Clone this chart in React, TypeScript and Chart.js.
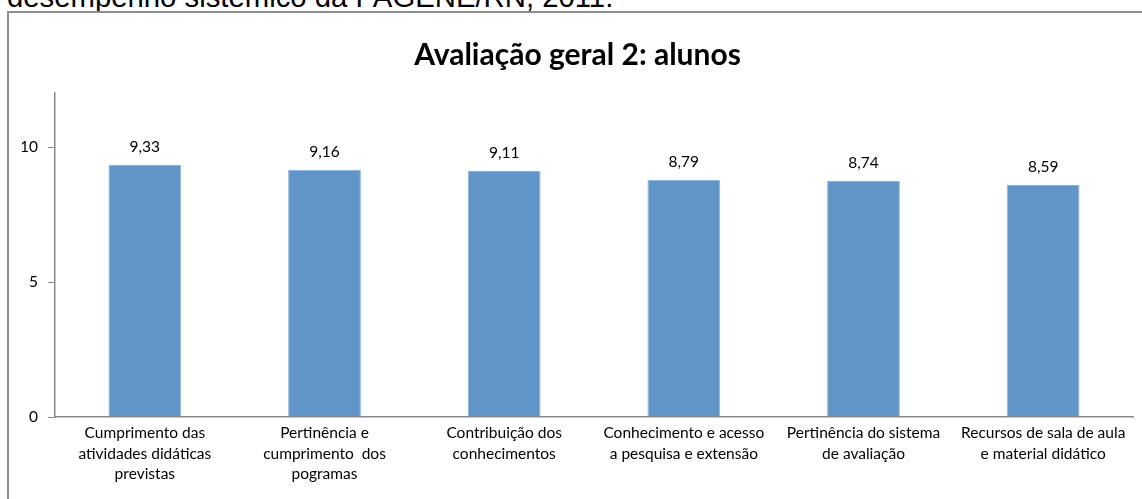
import React, { useEffect, useRef } from "react";
import { Chart, registerables } from "chart.js";

Chart.register(...registerables);

const categories: string[][] = [
  ["Cumprimento das", "atividades didáticas", "previstas"],
  ["Pertinência e", "cumprimento  dos", "pogramas"],
  ["Contribuição dos", "conhecimentos"],
  ["Conhecimento e acesso", "a pesquisa e extensão"],
  ["Pertinência do sistema", "de avaliação"],
  ["Recursos de sala de aula", "e material didático"],
];
const values: number[] = [9.33, 9.16, 9.11, 8.79, 8.74, 8.59];
const titleText = "Avaliação geral 2: alunos";
const captionText = "desempenho sistêmico da PAGENE/RN, 2011.";

const FONT = "Lato, 'Open Sans', sans-serif";
const TXT = 15.5;

const dataLabelPlugin = {
  id: "dataLabels",
  afterDatasetsDraw(chart: any) {
    const ctx = chart.ctx;
    const meta = chart.getDatasetMeta(0);
    ctx.save();
    ctx.font = `${TXT}px ${FONT}`;
    ctx.fillStyle = "#000";
    ctx.textAlign = "center";
    ctx.textBaseline = "alphabetic";
    meta.data.forEach((bar: any, i: number) => {
      const v = chart.data.datasets[0].data[i] as number;
      ctx.fillText(v.toFixed(2).replace(".", ","), bar.x, bar.y - 13);
    });
    ctx.restore();
  },
};

export default function App() {
  const ref = useRef<HTMLCanvasElement>(null);
  useEffect(() => {
    if (!ref.current) return;
    const chart = new Chart(ref.current, {
      type: "bar",
      data: {
        labels: categories,
        datasets: [
          {
            data: values,
            backgroundColor: "#6195c8",
            borderColor: "#8db2d9",
            borderWidth: 1,
            categoryPercentage: 1,
            barPercentage: 0.405,
          },
        ],
      },
      options: {
        responsive: false,
        animation: false,
        layout: { padding: { left: 22, right: 9, top: 0, bottom: 0 } },
        plugins: {
          legend: { display: false },
          tooltip: { enabled: false },
          title: {
            display: true,
            text: titleText,
            color: "#000",
            font: { family: FONT, size: 30, weight: "bold", lineHeight: 1.2 },
            padding: { top: 37, bottom: 20 },
          },
        },
        scales: {
          x: {
            grid: { display: true, drawOnChartArea: false, drawTicks: false },
            border: { display: true, color: "#8a8a8a", width: 1.5 },
            ticks: {
              color: "#000",
              font: { family: FONT, size: TXT, lineHeight: 1.32 },
              padding: 6,
              maxRotation: 0,
              autoSkip: false,
            },
            afterFit(scale: any) {
              scale.height = 82;
            },
          },
          y: {
            min: 0,
            max: 12,
            grid: { display: true, drawOnChartArea: false, drawTicks: true, tickLength: 7, color: "#8a8a8a" },
            border: { display: true, color: "#8a8a8a", width: 1.5 },
            ticks: {
              stepSize: 5,
              includeBounds: false,
              color: "#000",
              font: { family: FONT, size: TXT },
              padding: 10,
            },
            afterFit(scale: any) {
              scale.width = 33;
            },
          },
        },
      },
      plugins: [dataLabelPlugin],
    });
    return () => chart.destroy();
  }, []);

  return (
    <div
      style={{
        position: "fixed",
        left: 0,
        top: 0,
        width: 1142,
        height: 499,
        overflow: "hidden",
        background: "#fff",
      }}
    >
      <div
        style={{
          position: "absolute",
          left: 7,
          top: -18,
          fontFamily: "'Liberation Sans', Arial, sans-serif",
          fontSize: 29.3,
          lineHeight: "29px",
          whiteSpace: "nowrap",
          color: "#000",
        }}
      >
        {captionText}
      </div>
      <div
        style={{
          position: "absolute",
          left: 7,
          top: 11,
          width: 1200,
          height: 600,
          border: "2px solid #8e8e8e",
          boxSizing: "border-box",
        }}
      />
      <canvas
        ref={ref}
        width={1142}
        height={499}
        style={{ position: "absolute", left: 0, top: 0, width: 1142, height: 499 }}
      />
    </div>
  );
}
